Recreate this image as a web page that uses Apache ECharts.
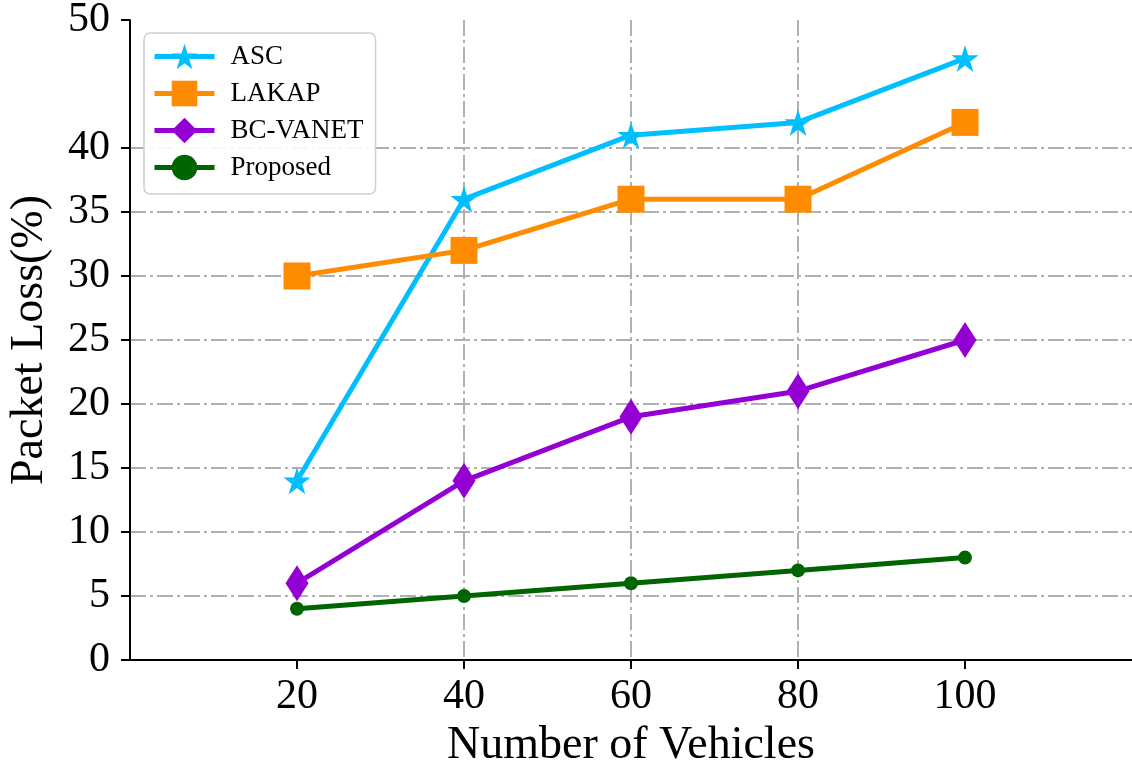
<!DOCTYPE html>
<html>
<head>
<meta charset="utf-8">
<script src="https://cdn.jsdelivr.net/npm/echarts@6/dist/echarts.min.js"></script>
<style>
html,body{margin:0;padding:0;background:#fff;}
#chart{width:1132px;height:771px;}
</style>
</head>
<body>
<div id="chart"></div>
<script>
const vehicles = [20, 40, 60, 80, 100];
const asc = [14, 36, 41, 42, 47];
const lakap = [30, 32, 36, 36, 42];
const bcvanet = [6, 14, 19, 21, 25];
const proposed = [4, 5, 6, 7, 8];
const xTicks = [20, 40, 60, 80, 100];
const yTicks = [0, 5, 10, 15, 20, 25, 30, 35, 40, 50];

const FONT = '"Liberation Serif", "Times New Roman", serif';
const STAR = 'path://M50,0 L61.2,34.5 L97.6,34.5 L68.2,55.9 L79.4,90.5 L50,69.1 L20.6,90.5 L31.8,55.9 L2.4,34.5 L38.8,34.5 Z';
const gridStyle = { color: '#b0b0b0', width: 2, type: [16, 4, 3, 4] };

function pairs(ys) { return vehicles.map((x, i) => [x, ys[i]]); }

const chart = echarts.init(document.getElementById('chart'), null, { renderer: 'canvas' });
chart.setOption({
  animation: false,
  backgroundColor: '#fff',
  textStyle: { fontFamily: FONT },
  grid: { left: 130, right: 0, top: 20, bottom: 111, containLabel: false, outerBoundsMode: 'none' },
  legend: {
    orient: 'vertical',
    left: 144, top: 33,
    padding: [10, 12, 13, 8],
    itemWidth: 60, itemHeight: 32, itemGap: 10,
    lineStyle: { width: 5 },
    backgroundColor: 'rgba(255,255,255,0.9)',
    borderColor: '#d0d0d0', borderWidth: 1.5, borderRadius: 6,
    textStyle: { fontFamily: FONT, fontSize: 27, color: '#000', padding: [0, 0, 0, 11] },
    data: ['ASC', 'LAKAP', 'BC-VANET', 'Proposed']
  },
  xAxis: [{
    type: 'value', min: 0, max: 120, interval: 20,
    name: 'Number of Vehicles', nameLocation: 'middle', nameGap: 63,
    nameTextStyle: { fontFamily: FONT, fontSize: 46, color: '#000' },
    axisLine: { show: true, onZero: false, lineStyle: { color: '#000', width: 2 } },
    axisTick: { show: true, inside: false, length: 9, lineStyle: { color: '#000', width: 2 }, customValues: xTicks },
    axisLabel: { fontFamily: FONT, fontSize: 42, color: '#000', margin: 16, customValues: xTicks },
    splitLine: { show: true, showMinLine: false, showMaxLine: false, lineStyle: gridStyle }
  }, {
    type: 'value', position: 'top', min: 0, max: 120,
    axisLine: { show: true, lineStyle: { color: '#000', width: 2 } },
    axisTick: { show: false }, axisLabel: { show: false }, splitLine: { show: false }
  }],
  yAxis: {
    type: 'value', min: 0, max: 50, interval: 5,
    name: 'Packet Loss(%)', nameLocation: 'middle', nameGap: 77,
    nameTextStyle: { fontFamily: FONT, fontSize: 46, color: '#000' },
    axisLine: { show: true, onZero: false, lineStyle: { color: '#000', width: 2 } },
    axisTick: { show: true, inside: false, length: 9, lineStyle: { color: '#000', width: 2 }, customValues: yTicks },
    axisLabel: { fontFamily: FONT, fontSize: 42, color: '#000', margin: 20, customValues: yTicks },
    splitLine: { show: true, showMinLine: false, showMaxLine: false, lineStyle: gridStyle, customValues: yTicks }
  },
  series: [
    { name: 'ASC', type: 'line', data: pairs(asc), symbol: STAR, symbolSize: 27,
      color: '#00BFFF', lineStyle: { width: 5, color: '#00BFFF' }, itemStyle: { color: '#00BFFF' } },
    { name: 'LAKAP', type: 'line', data: pairs(lakap), symbol: 'rect', symbolSize: 27,
      color: '#FF8C00', lineStyle: { width: 5, color: '#FF8C00' }, itemStyle: { color: '#FF8C00' } },
    { name: 'BC-VANET', type: 'line', data: pairs(bcvanet), symbol: 'diamond', symbolSize: [23, 36],
      color: '#9400D3', lineStyle: { width: 5, color: '#9400D3' }, itemStyle: { color: '#9400D3' } },
    { name: 'Proposed', type: 'line', data: pairs(proposed), symbol: 'circle', symbolSize: 14,
      color: '#006400', lineStyle: { width: 5, color: '#006400' }, itemStyle: { color: '#006400' } }
  ]
});
</script>
</body>
</html>
